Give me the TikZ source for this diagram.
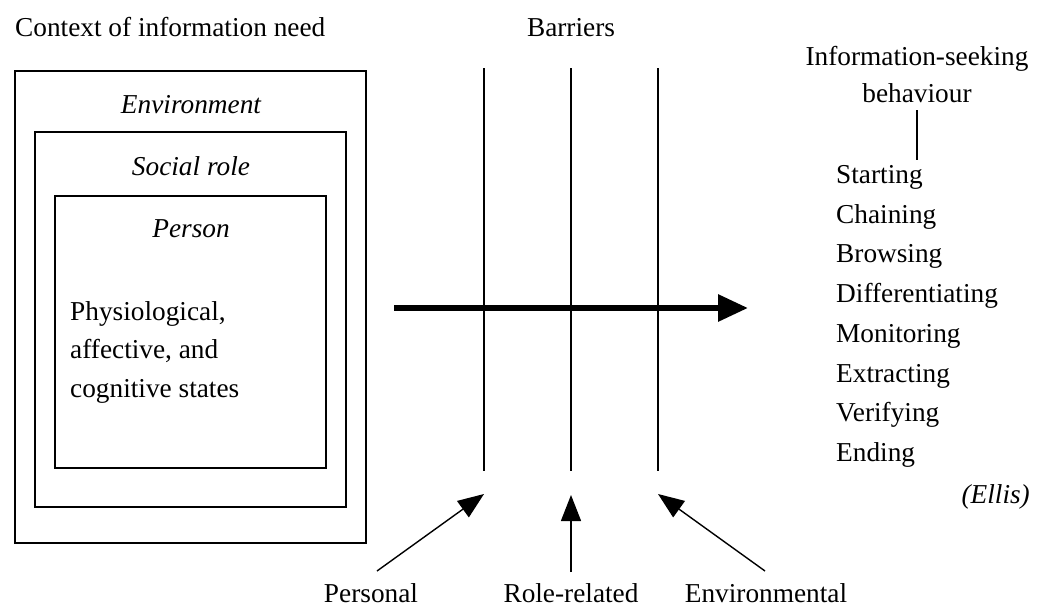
\documentclass[tikz,border=0pt]{standalone}
\usepackage{fontspec}
\setmainfont{Liberation Serif}
\usetikzlibrary{arrows.meta}
\tikzset{
  lbl/.style={font=\fontsize{27.3}{38}\selectfont, inner sep=0pt, anchor=base},
  lbw/.style={lbl, anchor=base west},
  itl/.style={font=\fontsize{27.3}{38}\selectfont\itshape, inner sep=0pt, anchor=base},
  boxln/.style={line width=1.6pt},
  barrier/.style={line width=1.3pt},
  force/.style={line width=1.4pt, -{Triangle[length=26pt,width=20pt]}},
  flow/.style={line width=6pt, -{Triangle[length=30pt,width=26pt]}},
}
\begin{document}
\begin{tikzpicture}[x=1pt,y=-1pt]
\useasboundingbox (0,0) rectangle (1044,606);
% title texts
\node[lbw] (ctx) at (15,36) {Context of information need};
\node[lbl] (bar) at (571,36) {Barriers};
% nested boxes
\draw[boxln] (15,71) rectangle (366,543);
\draw[boxln] (35,132) rectangle (346,507);
\draw[boxln] (55,196) rectangle (326,468);
\node[itl] (env) at (191,113) {Environment};
\node[itl] (soc) at (191,175) {Social role};
\node[itl] (per) at (191,237) {Person};
\node[lbw] (st1) at (70,320) {Physiological,};
\node[lbw] (st2) at (70,358) {affective, and};
\node[lbw] (st3) at (70,397) {cognitive states};
% barrier lines
\coordinate (b1t) at (484,68); \coordinate (b1b) at (484,471);
\coordinate (b2t) at (571,68); \coordinate (b2b) at (571,471);
\coordinate (b3t) at (658,68); \coordinate (b3b) at (658,471);
\draw[barrier] (b1t) -- (b1b);
\draw[barrier] (b2t) -- (b2b);
\draw[barrier] (b3t) -- (b3b);
% main flow arrow
\coordinate (fs) at (394,308); \coordinate (fe) at (748,308);
\draw[flow] (fs) -- (fe);
% barrier types
\node[lbl] (pers) at (371,602) {Personal};
\node[lbl] (role) at (571,602) {Role-related};
\node[lbl] (envr) at (766,602) {Environmental};
\coordinate (p0) at (377,571); \coordinate (p1) at (484,494);
\coordinate (r0) at (571,572); \coordinate (r1) at (571,495);
\coordinate (e0) at (765,571); \coordinate (e1) at (658,494);
\draw[force] (p0) -- (p1);
\draw[force] (r0) -- (r1);
\draw[force] (e0) -- (e1);
% behaviour
\node[lbl] (isb1) at (917,65) {Information-seeking};
\node[lbl] (isb2) at (917,102) {behaviour};
\coordinate (l0) at (917,110); \coordinate (l1) at (917,160);
\draw[line width=1.2pt] (l0) -- (l1);
\node[lbw] (a1) at (836,183) {Starting};
\node[lbw] (a2) at (836,223) {Chaining};
\node[lbw] (a3) at (836,262) {Browsing};
\node[lbw] (a4) at (836,302) {Differentiating};
\node[lbw] (a5) at (836,342) {Monitoring};
\node[lbw] (a6) at (836,382) {Extracting};
\node[lbw] (a7) at (836,421) {Verifying};
\node[lbw] (a8) at (836,461) {Ending};
\node[itl, anchor=base east] (ellis) at (1030,503) {(Ellis)};
\end{tikzpicture}
\end{document}
